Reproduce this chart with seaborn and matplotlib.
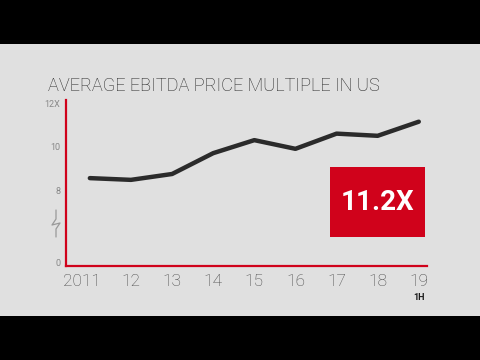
import pandas as pd
import matplotlib.pyplot as plt
import matplotlib.transforms as mtransforms
import seaborn as sns
from matplotlib.patches import Rectangle
from matplotlib.lines import Line2D

# data
years = [2011, 2012, 2013, 2014, 2015, 2016, 2017, 2018, 2019]
multiple = [8.55, 8.47, 8.74, 9.7, 10.3, 9.9, 10.6, 10.5, 11.15]
year_labels = ["2011", "12", "13", "14", "15", "16", "17", "18", "19"]
ytick_vals = [4.64, 8, 10, 12]
ytick_labels = ["0", "8", "10", "12X"]

df = pd.DataFrame({"year": years, "multiple": multiple})

sns.set_style("white")
plt.rcParams['font.family'] = ['Roboto', 'DejaVu Sans']

RED = "#d0021b"
fig = plt.figure(figsize=(4.8, 3.6), dpi=100, facecolor="#e0e0e0")
ax = fig.add_axes([66/480, 1-266/360, (427-66)/480, (266-100)/360])
ax.set_facecolor("none")

sns.lineplot(data=df, x="year", y="multiple", ax=ax, color="#2b2b2b", linewidth=3.2)

ax.set_xlim(2010.42, 2019.2)
ax.set_ylim(4.5, 12.15)
ax.set_xticks(years)
ax.set_xticklabels(year_labels, fontsize=12.5, color="#4a4a4a", fontweight="light")
ax.set_yticks(ytick_vals)
ax.set_yticklabels(ytick_labels, fontsize=6.5, color="#888")
ax.tick_params(length=0, pad=4)
ax.tick_params(axis="x", pad=6)
ax.set_xlabel("")
ax.set_ylabel("")
# first year label sits a little left of its tick
lab0 = ax.get_xticklabels()[0]
lab0.set_transform(lab0.get_transform() +
                   mtransforms.ScaledTranslation(-8/100, 0, fig.dpi_scale_trans))
for s in ["top", "right"]:
    ax.spines[s].set_visible(False)
for s in ["left", "bottom"]:
    ax.spines[s].set_color(RED)
    ax.spines[s].set_linewidth(1.6)

# title
fig.text(48/480, 1-91/360, "AVERAGE EBITDA PRICE MULTIPLE IN US", fontsize=13.1,
         color="#252525", fontweight="light", ha="left", va="baseline")

# 1H note under last year
fig.text(419/480, 1-297/360, "1H", fontsize=6.5, color="#1a1a1a", fontweight="bold",
         ha="center", va="center")

# axis break squiggle
sx = [56, 56, 52, 60, 56, 56]
sy = [210, 219, 225, 223, 229, 237]
fig.add_artist(Line2D([x/480 for x in sx], [1-y/360 for y in sy],
                      color="#999", linewidth=0.9, transform=fig.transFigure))

# highlighted value box
fig.add_artist(Rectangle((330/480, 1-237/360), 95/480, 70/360, facecolor=RED,
                         edgecolor="none", transform=fig.transFigure))
fig.text(377.5/480, 1-202/360, "11.2X", fontsize=20, color="white",
         fontweight="bold", ha="center", va="center")

# letterbox bars
fig.add_artist(Rectangle((0, 1-44/360), 1, 44/360, facecolor="black",
                         edgecolor="none", transform=fig.transFigure))
fig.add_artist(Rectangle((0, 0), 1, 44/360, facecolor="black",
                         edgecolor="none", transform=fig.transFigure))

fig.savefig("out.png", dpi=100, facecolor=fig.get_facecolor())
